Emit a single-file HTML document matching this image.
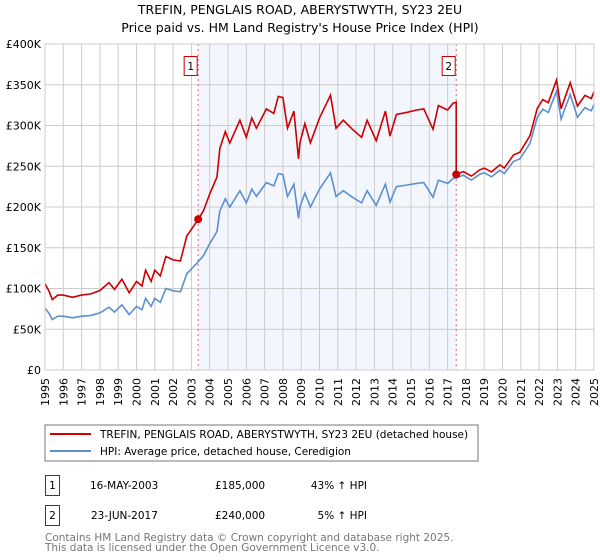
<!DOCTYPE html>
<html><head><meta charset="utf-8"><style>
body{margin:0;background:#fff;font-family:"DejaVu Sans","Liberation Sans",sans-serif;}
#wrap{position:relative;width:600px;height:560px;overflow:hidden}
</style></head><body>
<div id="wrap">
<svg id="chart" width="600" height="560" style="position:absolute;left:0;top:0;font-family:'DejaVu Sans','Liberation Sans',sans-serif">
<text x="300" y="14" text-anchor="middle" font-size="12.5">TREFIN, PENGLAIS ROAD, ABERYSTWYTH, SY23 2EU</text>
<text x="300" y="32" text-anchor="middle" font-size="12.5">Price paid vs. HM Land Registry's House Price Index (HPI)</text>
<g id="g"></g>
<rect x="45" y="425" width="433" height="36" fill="#fff" stroke="#777"/>
<line x1="50" y1="434" x2="91" y2="434" stroke="#cc0000" stroke-width="2"/>
<text x="100" y="438" font-size="10.5">TREFIN, PENGLAIS ROAD, ABERYSTWYTH, SY23 2EU (detached house)</text>
<line x1="50" y1="451" x2="91" y2="451" stroke="#5b8fd0" stroke-width="2"/>
<text x="100" y="455" font-size="10.5">HPI: Average price, detached house, Ceredigion</text>
<g font-size="10.5">
<rect x="45.5" y="475.5" width="14" height="20" fill="#fff" stroke="#cc0000"/>
<text x="52.5" y="489" text-anchor="middle">1</text>
<text x="90" y="489">16-MAY-2003</text>
<text x="215" y="489">£185,000</text>
<text x="367" y="489" text-anchor="end">43% ↑ HPI</text>
<rect x="45.5" y="505.5" width="14" height="20" fill="#fff" stroke="#cc0000"/>
<text x="52.5" y="519" text-anchor="middle">2</text>
<text x="91" y="519">23-JUN-2017</text>
<text x="215" y="519">£240,000</text>
<text x="367" y="519" text-anchor="end">5% ↑ HPI</text>
</g>
<text x="45" y="541" font-size="10.5" fill="#777">Contains HM Land Registry data © Crown copyright and database right 2025.</text>
<text x="45" y="551" font-size="10.5" fill="#777">This data is licensed under the Open Government Licence v3.0.</text>
</svg>
</div>
<script>
const hpiYears=[1995.0,1995.2,1995.4,1995.7,1996.0,1996.5,1997.0,1997.5,1998.0,1998.5,1998.8,1999.2,1999.6,2000.0,2000.3,2000.5,2000.8,2001.0,2001.3,2001.6,2002.0,2002.4,2002.75,2003.3,2003.65,2004.0,2004.4,2004.55,2004.85,2005.1,2005.65,2006.0,2006.3,2006.55,2007.1,2007.5,2007.75,2008.0,2008.25,2008.6,2008.85,2008.93,2009.2,2009.5,2010.0,2010.6,2010.9,2011.3,2011.8,2012.3,2012.6,2013.1,2013.6,2013.85,2014.2,2014.8,2015.3,2015.7,2016.2,2016.5,2017.0,2017.3,2017.5,2017.85,2018.3,2018.75,2019.0,2019.4,2019.85,2020.1,2020.6,2020.95,2021.5,2021.9,2022.2,2022.5,2022.95,2023.2,2023.7,2024.1,2024.5,2024.85,2025.0];
const hpiValues=[76,70,62,66,66,64,66,67,70,77,71,80,68,78,74,88,78,88,83,100,97,96,118,131,140,155,170,195,210,200,220,205,222,213,230,226,241,240,213,228,186,200,217,200,222,242,213,220,212,205,220,202,228,206,225,227,229,230,212,233,229,235,236,239,233,240,242,237,245,241,256,259,278,310,320,316,342,308,338,310,322,318,326];
const saleYears=[2003.37,2017.47];
const salePrices=[185,240];
const yTicks=[0,50,100,150,200,250,300,350,400];
const yTickLabels=['£0','£50K','£100K','£150K','£200K','£250K','£300K','£350K','£400K'];
const xTicks=[1995,1996,1997,1998,1999,2000,2001,2002,2003,2004,2005,2006,2007,2008,2009,2010,2011,2012,2013,2014,2015,2016,2017,2018,2019,2020,2021,2022,2023,2024,2025];

const X0=45,X1=594,Y0=370,Y1=44;
const xs=y=>X0+(y-1995)/30*(X1-X0);
const ys=v=>Y0-v/400*(Y0-Y1);
const NS='http://www.w3.org/2000/svg';
const g=document.getElementById('g');
function mk(t,a){const e=document.createElementNS(NS,t);for(const k in a)e.setAttribute(k,a[k]);g.appendChild(e);return e;}
function hpiAt(t){for(let i=0;i<hpiYears.length-1;i++){if(t<=hpiYears[i+1]){const f=(t-hpiYears[i])/(hpiYears[i+1]-hpiYears[i]);return hpiValues[i]+f*(hpiValues[i+1]-hpiValues[i]);}}return hpiValues[hpiValues.length-1];}

let e=mk('rect',{x:xs(saleYears[0]),y:Y1,width:xs(saleYears[1])-xs(saleYears[0]),height:Y0-Y1,fill:'#eef3fc',opacity:0.7});


xTicks.forEach(t=>{const l=mk('line',{x1:xs(t),x2:xs(t),y1:Y1,y2:Y0,stroke:'#ccc','stroke-width':1});


const tx=mk('text',{x:0,y:0,'font-size':11,'text-anchor':'end',transform:`translate(${xs(t)+4},${Y0+8}) rotate(-90)`});tx.textContent=t;

});
yTicks.forEach((t,i)=>{const l=mk('line',{x1:X0,x2:X1,y1:ys(t),y2:ys(t),stroke:'#ccc','stroke-width':1});


const tx=mk('text',{x:X0-4,y:ys(t)+4,'font-size':11,'text-anchor':'end'});tx.textContent=yTickLabels[i];

});
saleYears.forEach((s,i)=>{const l=mk('line',{x1:xs(s),x2:xs(s),y1:Y1,y2:Y0,stroke:'#e06666','stroke-dasharray':'2,3','stroke-width':1});


const r=mk('rect',{x:xs(s)-14,y:56.5,width:13,height:19,fill:'#fff',stroke:'#cc0000'});


const tx=mk('text',{x:xs(s)-7.5,y:70,'font-size':10.5,'text-anchor':'middle'});tx.textContent=i+1;

});
let d='';hpiYears.forEach((t,i)=>{d+=(i?'L':'M')+xs(t).toFixed(1)+','+ys(hpiValues[i]).toFixed(1);});
e=mk('path',{d:d,fill:'none',stroke:'#5b8fd0','stroke-width':1.6});


const r1=salePrices[0]/hpiAt(saleYears[0]),r2=salePrices[1]/hpiAt(saleYears[1]);
let pd='',pre=true;
hpiYears.forEach((t,i)=>{
 if(t>saleYears[1]&&pre){pre=false;pd+='L'+xs(saleYears[1]).toFixed(1)+','+ys(hpiAt(saleYears[1])*r1).toFixed(1)+'L'+xs(saleYears[1]).toFixed(1)+','+ys(salePrices[1]).toFixed(1);}
 const v=hpiValues[i]*(pre?r1:r2*(1+0.03*(t-saleYears[1])/7.5));pd+=(i?'L':'M')+xs(t).toFixed(1)+','+ys(v).toFixed(1);});
e=mk('path',{d:pd,fill:'none',stroke:'#cc0000','stroke-width':1.6});


saleYears.forEach((s,i)=>{const c=mk('circle',{cx:xs(s),cy:ys(salePrices[i]),r:4,fill:'#cc0000'});

});
e=mk('rect',{x:X0,y:Y1,width:X1-X0,height:Y0-Y1,fill:'none',stroke:'#ccc'});


</script>
</body></html>
